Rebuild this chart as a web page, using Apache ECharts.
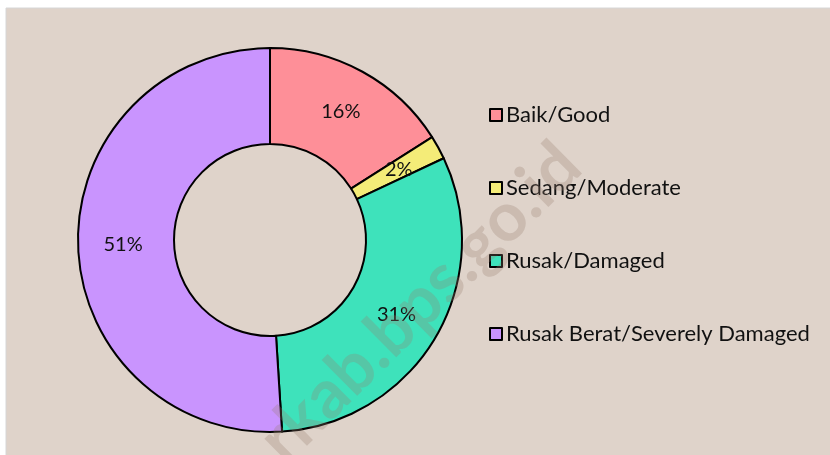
<!DOCTYPE html>
<html>
<head>
<meta charset="utf-8">
<script src="https://cdn.jsdelivr.net/npm/echarts@6/dist/echarts.min.js"></script>
<style>
  html, body { margin: 0; padding: 0; background: #fff; }
  #main { width: 830px; height: 455px; }
</style>
</head>
<body>
<div id="main"></div>
<script>
var categories = ['Baik/Good', 'Sedang/Moderate', 'Rusak/Damaged', 'Rusak Berat/Severely Damaged'];
var values = [16, 2, 31, 51];
var colors = ['#fe8f98', '#f4ec78', '#3ee2bb', '#c994fe'];

var myChart = echarts.init(document.getElementById('main'));
var option = {
    animation: false,
    color: colors,
    textStyle: { fontFamily: 'Lato' },
    graphic: [{
        type: 'rect',
        z: -10,
        shape: { x: 6, y: 8, width: 830, height: 460 },
        style: { fill: '#dfd3ca', stroke: '#d6d6d6', lineWidth: 1 }
    }, {
        type: 'text',
        z: 100,
        x: 420,
        y: 303,
        rotation: 0.78,
        style: {
            text: 'rkab.bps.go.id',
            fontFamily: 'Lato',
            fontWeight: 'bold',
            fontSize: 68,
            fill: 'rgba(150,125,110,0.28)',
            align: 'center',
            verticalAlign: 'middle'
        }
    }],
    legend: {
        orient: 'vertical',
        left: 484,
        top: 99,
        itemWidth: 12,
        itemHeight: 12,
        itemGap: 51,
        icon: 'rect',
        itemStyle: { borderColor: '#000', borderWidth: 2 },
        textStyle: { fontSize: 22, color: '#111', fontFamily: 'Lato', padding: [0, 0, 0, -1] },
        data: categories
    },
    series: [{
        type: 'pie',
        center: [270, 240],
        radius: [96, 192],
        startAngle: 90,
        clockwise: true,
        itemStyle: { borderColor: '#000', borderWidth: 2 },
        label: {
            position: 'inside',
            fontSize: 20,
            color: '#111',
            fontFamily: 'Lato',
            formatter: function (p) { return p.value + '%'; }
        },
        labelLine: { show: false },
        emphasis: { disabled: true },
        data: categories.map(function (c, i) { return { name: c, value: values[i] }; })
    }]
};
myChart.setOption(option);
</script>
</body>
</html>
